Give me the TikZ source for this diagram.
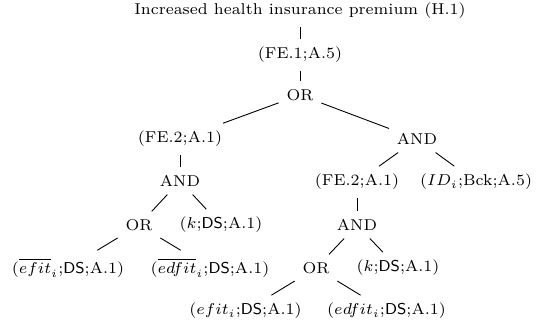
\documentclass[tikz,border=0pt]{standalone}
\begin{document}
\begin{tikzpicture}[x=0.445pt,y=-0.445pt,
  tn/.style={font=\scriptsize, inner sep=0.3333em},
  edge/.style={draw=black, line width=0.4pt}]
\useasboundingbox (0,0) rectangle (536,325);
\node[tn] (title) at (300,11)  {Increased health insurance premium (H.1)};
\node[tn] (fe1)   at (300,55)  {(FE.1;A.5)};
\node[tn] (or1)   at (300,95)  {OR};
\node[tn] (fe2l)  at (180,139) {(FE.2;A.1)};
\node[tn] (andr)  at (417,139) {AND};
\node[tn] (andl)  at (180,181) {AND};
\node[tn] (fe2r)  at (357,182) {(FE.2;A.1)};
\node[tn] (id)    at (476,182) {($ID_i$;Bck;A.5)};
\node[tn] (orl)   at (139,225) {OR};
\node[tn] (kl)    at (221,225) {($k$;\textsf{DS};A.1)};
\node[tn] (and2)  at (357,225) {AND};
\node[tn] (ebl)   at (68,268)  {($\overline{efit}_i$;\textsf{DS};A.1)};
\node[tn] (edbl)  at (210,268) {($\overline{edfit}_i$;\textsf{DS};A.1)};
\node[tn] (or2)   at (316,268) {OR};
\node[tn] (kr)    at (398,268) {($k$;\textsf{DS};A.1)};
\node[tn] (e)     at (245.5,311) {($efit_i$;\textsf{DS};A.1)};
\node[tn] (ed)    at (386.5,311) {($edfit_i$;\textsf{DS};A.1)};
\draw[edge] (title) -- (fe1);
\draw[edge] (fe1) -- (or1);
\draw[edge] (or1) -- (fe2l);
\draw[edge] (or1) -- (andr);
\draw[edge] (fe2l) -- (andl);
\draw[edge] (andr) -- (fe2r);
\draw[edge] (andr) -- (id);
\draw[edge] (andl) -- (orl);
\draw[edge] (andl) -- (kl);
\draw[edge] (fe2r) -- (and2);
\draw[edge] (orl) -- (ebl);
\draw[edge] (orl) -- (edbl);
\draw[edge] (and2) -- (or2);
\draw[edge] (and2) -- (kr);
\draw[edge] (or2) -- (e);
\draw[edge] (or2) -- (ed);
\end{tikzpicture}
\end{document}
